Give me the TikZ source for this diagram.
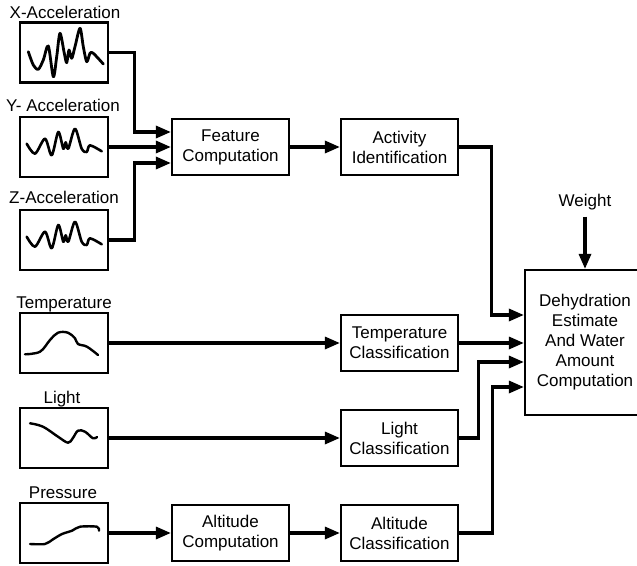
\documentclass[tikz,border=0pt]{standalone}
\usepackage{fontspec}
\setmainfont{Liberation Sans}
\usetikzlibrary{arrows.meta}
\newcommand{\fs}{\fontsize{17}{20}\selectfont}
\begin{document}
\begin{tikzpicture}[x=1pt,y=-1pt,
  sensor/.style={draw, line width=2.2pt, minimum width=88pt, minimum height=60pt, inner sep=0pt},
  proc/.style={draw, line width=2.2pt, minimum width=117pt, minimum height=56pt, align=center, inner sep=0pt, font=\fs},
  lbl/.style={font=\fs, anchor=base, inner sep=0pt},
  arr/.style={line width=3.2pt, -{Triangle[length=15pt,width=12pt]}},
  wave/.style={line width=2.4pt, line join=round, line cap=round}]
\useasboundingbox (0,0) rectangle (637,565);
\clip (0,0) rectangle (637,565);

% sensor boxes
\node[sensor] (xa) at (64,52.5) {};
\node[sensor] (ya) at (64,147) {};
\node[sensor] (za) at (64,240) {};
\node[sensor] (tp) at (64,343) {};
\node[sensor] (lt) at (64,438) {};
\node[sensor] (pr) at (64,533) {};

% labels
\node[lbl] (xal) at (65,18) {X-Acceleration};
\node[lbl] (yal) at (63,111) {Y- Acceleration};
\node[lbl] (zal) at (64,203) {Z-Acceleration};
\node[lbl] (tpl) at (64,308.5) {Temperature};
\node[lbl] (ltl) at (62,403) {Light};
\node[lbl] (prl) at (63,498) {Pressure};

% waveforms
\draw[wave, line width=2.8pt, shift={(xa.center)}] plot[smooth, tension=0.5] coordinates {(-35.7,-0.8) (-30.7,12.5) (-25.7,16.8) (-20.7,7.5) (-15.7,-6.5) (-10.7,24.2) (-7.3,4.2) (-4,-19.2) (0.3,0.8) (2.7,10.2) (5,-2.5) (7.7,5.8) (11,-5.8) (16,-24.2) (19.3,-5.8) (22.7,9.2) (26,0.8) (29.3,0.8) (39.3,11.5)};
\draw[wave, line width=2.6pt, shift={(ya.center)}] plot[smooth, tension=0.5] coordinates {(-37.3,-3.3) (-29,6.7) (-19,-8.3) (-12.3,8.3) (-5.7,-15) (-0.7,1.7) (1.7,-4.7) (4.3,1.7) (11,-18.3) (17.7,1.7) (22.7,5) (26,-1.7) (37.7,4.3)};
\draw[wave, line width=2.6pt, shift={(za.center)}] plot[smooth, tension=0.5] coordinates {(-37.3,-3.3) (-29,6.7) (-19,-8.3) (-12.3,8.3) (-5.7,-15) (-0.7,1.7) (1.7,-4.7) (4.3,1.7) (11,-18.3) (17.7,1.7) (22.7,5) (26,-1.7) (37.7,4.3)};
\draw[wave, shift={(tp.center)}] plot[smooth, tension=0.6] coordinates {(-39,11.3) (-24,8.7) (-14,-3) (-6,-10.3) (4,-10.3) (11,-4.7) (14,1) (23,3.7) (34,12)};
\draw[wave, shift={(lt.center)}] plot[smooth, tension=0.6] coordinates {(-34,-14.7) (-21,-11.3) (-6,-1.3) (4,4.7) (8.7,0.3) (14,-7.3) (21,-6.3) (29,0.3) (33,-1)};
\draw[wave, shift={(pr.center)}] plot[smooth, tension=0.5] coordinates {(-34,11) (-19,11) (-11,6.3) (-2,1) (8,-2.3) (16,-6.3) (33,-6.3) (35,-2.3)};

% processing boxes
\node[proc] (fc) at (230.5,147) {Feature\\Computation};
\node[proc] (ai) at (399.5,147) {Activity\\Identification};
\node[proc] (tc) at (399.5,343) {Temperature\\Classification};
\node[proc] (lc) at (399.5,438) {Light\\Classification};
\node[proc] (ac) at (230.5,533) {Altitude\\Computation};
\node[proc] (alc) at (399.5,533) {Altitude\\Classification};
\node[proc, minimum width=120pt, minimum height=145pt] (dh) at (585,342.5) {Dehydration\\Estimate\\And Water\\Amount\\Computation};
\node[font=\fs, inner sep=2pt] (w) at (585,202.5) {Weight};

% connectors
\draw[arr] (xa.east) -- ++(25,0) |- ([yshift=15pt]fc.west);
\draw[arr] (ya.east) -- (fc.west);
\draw[arr] (za.east) -- ++(25,0) |- ([yshift=-16pt]fc.west);
\draw[arr] (fc) -- (ai);
\draw[arr] (ai.east) -- ++(32,0) |- ([yshift=27.5pt]dh.west);
\draw[arr] (tp.east) -- (tc.west);
\draw[arr] (tc.east) -- (tc.east -| dh.west);
\draw[arr] (lt.east) -- (lc.west);
\draw[arr] (lc.east) -- ++(19,0) |- ([yshift=-19.5pt]dh.west);
\draw[arr] (pr.east) -- (ac.west);
\draw[arr] (ac) -- (alc);
\draw[arr] (alc.east) -- ++(33,0) |- ([yshift=-44.5pt]dh.west);
\draw[arr, shorten <=4pt] (w) -- (dh.north);
\end{tikzpicture}
\end{document}
